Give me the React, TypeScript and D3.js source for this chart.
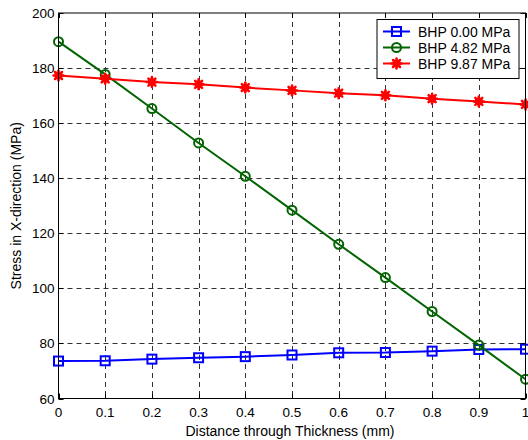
import React from "react";
import * as d3 from "d3";

const xs = [0, 0.1, 0.2, 0.3, 0.4, 0.5, 0.6, 0.7, 0.8, 0.9, 1.0];
const bhp000 = [73.6, 73.7, 74.3, 74.8, 75.2, 75.8, 76.6, 76.7, 77.2, 77.8, 77.9];
const bhp482 = [189.6, 177.7, 165.3, 152.8, 140.7, 128.4, 116.0, 103.9, 91.6, 79.4, 67.0];
const bhp987 = [177.3, 176.1, 174.9, 174.1, 172.9, 171.9, 170.9, 170.1, 168.9, 167.9, 166.8];
const seriesNames = ["BHP 0.00 MPa", "BHP 4.82 MPa", "BHP 9.87 MPa"];
const xTicks = [0, 0.1, 0.2, 0.3, 0.4, 0.5, 0.6, 0.7, 0.8, 0.9, 1];
const yTicks = [60, 80, 100, 120, 140, 160, 180, 200];
const xLabel = "Distance through Thickness (mm)";
const yLabel = "Stress in X-direction (MPa)";

const W = 528, H = 440;
const L = 58.5, R = 525.5, T = 13, B = 398.5;
const FONT = "Arial, 'Liberation Sans', sans-serif";

function Marker({ kind, x, y, color }: { kind: number; x: number; y: number; color: string }) {
  if (kind === 0) return <rect x={x - 4.5} y={y - 4.5} width={9} height={9} fill="none" stroke={color} strokeWidth={2} />;
  if (kind === 1) return <circle cx={x} cy={y} r={4.5} fill="none" stroke={color} strokeWidth={2} />;
  const a = 5;
  return (
    <g stroke={color} strokeWidth={2.5} strokeLinecap="round">
      <line x1={x - a} y1={y} x2={x + a} y2={y} />
      <line x1={x} y1={y - a} x2={x} y2={y + a} />
      <line x1={x - a * 0.7} y1={y - a * 0.7} x2={x + a * 0.7} y2={y + a * 0.7} />
      <line x1={x - a * 0.7} y1={y + a * 0.7} x2={x + a * 0.7} y2={y - a * 0.7} />
      <circle cx={x} cy={y} r={4} fill={color} stroke="none" />
    </g>
  );
}

export default function App() {
  const x = d3.scaleLinear().domain([0, 1]).range([L, R]);
  const y = d3.scaleLinear().domain([60, 200]).range([B, T]);
  const series = [bhp000, bhp482, bhp987];
  const colors = ["#0000ff", "#006400", "#ff0000"];
  const line = d3.line<number>().x((_, i) => x(xs[i])).y((d) => y(d));
  const legX = 377, legY = 19.5, legW = 142, legH = 59;
  return (
    <svg width={W} height={H} style={{ position: "absolute", left: 0, top: 0, background: "#fff" }}>
      <rect x={0} y={0} width={W} height={H} fill="#fff" />
      {/* grid */}
      <g stroke="#000" strokeWidth={1} strokeDasharray="5,4" opacity={0.8}>
        {xTicks.slice(1, -1).map((t) => (
          <line key={"gx" + t} x1={Math.round(x(t)) + 0.5} x2={Math.round(x(t)) + 0.5} y1={T} y2={B} />
        ))}
        {yTicks.slice(1, -1).map((t) => (
          <line key={"gy" + t} x1={L} x2={R} y1={Math.round(y(t)) + 0.5} y2={Math.round(y(t)) + 0.5} />
        ))}
      </g>
      {/* ticks */}
      <g stroke="#000" strokeWidth={1}>
        {xTicks.map((t) => (
          <g key={"tx" + t}>
            <line x1={Math.round(x(t)) + 0.5} x2={Math.round(x(t)) + 0.5} y1={B} y2={B - 5} />
            <line x1={Math.round(x(t)) + 0.5} x2={Math.round(x(t)) + 0.5} y1={T} y2={T + 5} />
          </g>
        ))}
        {yTicks.map((t) => (
          <g key={"ty" + t}>
            <line x1={L} x2={L + 5} y1={Math.round(y(t)) + 0.5} y2={Math.round(y(t)) + 0.5} />
            <line x1={R} x2={R - 5} y1={Math.round(y(t)) + 0.5} y2={Math.round(y(t)) + 0.5} />
          </g>
        ))}
      </g>
      {/* series */}
      {series.map((s, k) => (
        <g key={"s" + k}>
          <path d={line(s) || ""} fill="none" stroke={colors[k]} strokeWidth={2} />
          {s.map((v, i) => (
            <Marker key={i} kind={k} x={x(xs[i])} y={y(v)} color={colors[k]} />
          ))}
        </g>
      ))}
      {/* frame */}
      <rect x={L} y={T} width={R - L} height={B - T} fill="none" stroke="#000" strokeWidth={1} />
      {/* tick labels */}
      <g fontFamily={FONT} fontSize={13.5} fill="#000">
        {xTicks.map((t) => (
          <text key={"lx" + t} x={x(t)} y={B + 18} textAnchor="middle">{String(t)}</text>
        ))}
        {yTicks.map((t) => (
          <text key={"ly" + t} x={L - 4} y={y(t) + 5} textAnchor="end">{String(t)}</text>
        ))}
      </g>
      <g fontFamily={FONT} fontSize={14} fill="#000">
        <text x={290} y={436} textAnchor="middle">{xLabel}</text>
        <text transform={`translate(21,${(T + B) / 2}) rotate(-90)`} textAnchor="middle">{yLabel}</text>
      </g>
      {/* legend */}
      <g>
        <rect x={legX} y={legY} width={legW} height={legH} fill="#fff" stroke="#000" strokeWidth={1} />
        {seriesNames.map((n, k) => {
          const ry = legY + 12 + k * 16;
          return (
            <g key={"lg" + k}>
              <line x1={legX + 6} x2={legX + 33} y1={ry} y2={ry} stroke={colors[k]} strokeWidth={2} />
              <Marker kind={k} x={legX + 19.5} y={ry} color={colors[k]} />
              <text x={legX + 41} y={ry + 5} fontFamily={FONT} fontSize={14} fill="#000">{n}</text>
            </g>
          );
        })}
      </g>
    </svg>
  );
}
